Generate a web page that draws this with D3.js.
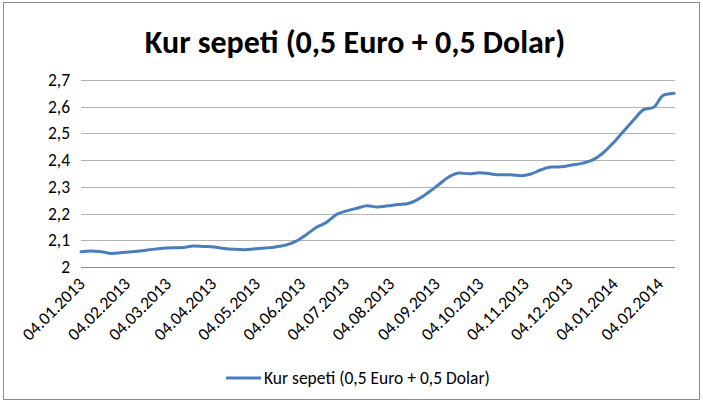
<!DOCTYPE html>
<html><head><meta charset="utf-8">
<script src="https://cdn.jsdelivr.net/npm/d3@7"></script>
<style>body{margin:0;background:#fff}svg{display:block}</style>
</head><body><svg id="c" width="703" height="404"></svg>
<script>
const title = "Kur sepeti (0,5 Euro + 0,5 Dolar)";
const seriesName = "Kur sepeti (0,5 Euro + 0,5 Dolar)";
const startDate = "2013-01-04";
// weekly values (Fridays) from 04.01.2013
const values = [2.057,2.060,2.057,2.051,2.054,2.057,2.061,2.066,2.070,2.072,
2.073,2.079,2.077,2.075,2.069,2.066,2.065,2.068,2.071,2.075,
2.082,2.096,2.120,2.148,2.167,2.197,2.210,2.220,2.229,2.225,
2.229,2.234,2.238,2.254,2.280,2.309,2.338,2.352,2.349,2.353,
2.349,2.345,2.345,2.342,2.348,2.364,2.374,2.375,2.382,2.388,
2.400,2.425,2.462,2.505,2.548,2.588,2.598,2.644,2.650];
const yTicks = [2,2.1,2.2,2.3,2.4,2.5,2.6,2.7];
const xTickLabels = ["04.01.2013","04.02.2013","04.03.2013","04.04.2013","04.05.2013","04.06.2013","04.07.2013","04.08.2013","04.09.2013","04.10.2013","04.11.2013","04.12.2013","04.01.2014","04.02.2014"];

const parse = d3.timeParse("%d.%m.%Y");
const t0 = d3.timeParse("%Y-%m-%d")(startDate);
const data = values.map((v,i)=>({date:d3.timeDay.offset(t0,7*i), v}));

const svg = d3.select("#c");
const font = "Calibri, Carlito, 'Liberation Sans Narrow', 'Open Sans', sans-serif";
svg.append("rect").attr("x",3.5).attr("y",2.5).attr("width",696).attr("height",397)
  .attr("fill","#fff").attr("stroke","#8c8c8c");

const x = d3.scaleTime().domain(d3.extent(data,d=>d.date)).range([81,674]);
const y = d3.scaleLinear().domain([2,2.7]).range([267,80]);

// gridlines
svg.append("g").selectAll("line").data(yTicks).join("line")
  .attr("x1",81).attr("x2",675).attr("y1",d=>Math.round(y(d))+0.5).attr("y2",d=>Math.round(y(d))+0.5)
  .attr("stroke",(d,i)=>i===0?"#8c8c8c":"#b3b3b3").attr("stroke-width",1.2);

const fmt = d => d3.format(".1f")(d).replace(".0","").replace(".",",");
svg.append("g").selectAll("text").data(yTicks).join("text")
  .attr("x",70).attr("y",d=>y(d)+6).attr("text-anchor","end")
  .attr("font-family",font).attr("font-size",17.5).attr("fill","#000").text(fmt);

// x labels
svg.append("g").selectAll("text").data(xTickLabels).join("text")
  .attr("transform",s=>`translate(${x(parse(s))+5},${285}) rotate(-45)`)
  .attr("text-anchor","end").attr("font-family",font).attr("font-size",17.5).attr("fill","#000")
  .text(s=>s);

// line
svg.append("path").datum(data)
  .attr("d",d3.line().x(d=>x(d.date)).y(d=>y(d.v)).curve(d3.curveMonotoneX))
  .attr("fill","none").attr("stroke","#4a7ebb").attr("stroke-width",3).attr("stroke-linejoin","round").attr("stroke-linecap","round");

// title
svg.append("text").attr("x",355).attr("y",53).attr("text-anchor","middle")
  .attr("font-family",font).attr("font-weight","bold").attr("font-size",32).attr("fill","#000").text(title);

// legend
svg.append("line").attr("x1",226).attr("x2",261).attr("y1",378).attr("y2",378)
  .attr("stroke","#4a7ebb").attr("stroke-width",3);
svg.append("text").attr("x",264).attr("y",384).attr("font-family",font).attr("font-size",17.5).attr("fill","#000").text(seriesName);
</script></body></html>
